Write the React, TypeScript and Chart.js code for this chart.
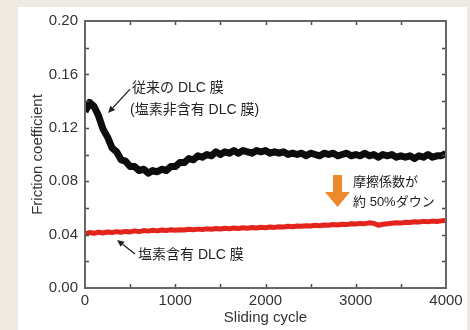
import { useEffect, useRef } from 'react';
import { Chart, registerables } from 'chart.js';

Chart.register(...registerables);

// ---- data ----
const cycles = [
  0, 50, 100, 150, 200, 250, 300, 350, 400, 450,
  500, 550, 600, 650, 700, 750, 800, 850, 900, 950,
  1000, 1050, 1100, 1150, 1200, 1250, 1300, 1350, 1400, 1450,
  1500, 1550, 1600, 1650, 1700, 1750, 1800, 1850, 1900, 1950,
  2000, 2050, 2100, 2150, 2200, 2250, 2300, 2350, 2400, 2450,
  2500, 2550, 2600, 2650, 2700, 2750, 2800, 2850, 2900, 2950,
  3000, 3050, 3100, 3150, 3200, 3250, 3300, 3350, 3400, 3450,
  3500, 3550, 3600, 3650, 3700, 3750, 3800, 3850, 3900, 3950,
  4000,
];

const conventionalDLC = [
  0.132, 0.139, 0.136, 0.129, 0.119, 0.113, 0.105, 0.102, 0.096, 0.095,
  0.091, 0.091, 0.088, 0.089, 0.086, 0.088, 0.087, 0.089, 0.088, 0.091,
  0.091, 0.094, 0.094, 0.097, 0.096, 0.099, 0.098, 0.100, 0.099, 0.102,
  0.100, 0.102, 0.101, 0.103, 0.101, 0.103, 0.102, 0.101, 0.103, 0.102,
  0.103, 0.101, 0.102, 0.101, 0.102, 0.100, 0.101, 0.100, 0.101, 0.099,
  0.101, 0.100, 0.099, 0.101, 0.100, 0.101, 0.099, 0.100, 0.101, 0.099,
  0.100, 0.099, 0.101, 0.099, 0.100, 0.098, 0.100, 0.099, 0.100, 0.098,
  0.099, 0.098, 0.099, 0.097, 0.099, 0.098, 0.100, 0.098, 0.099, 0.099,
  0.101,
];

const chlorineDLC = [
  0.0405, 0.0415, 0.0410, 0.0418, 0.0412, 0.0420, 0.0415, 0.0422, 0.0418, 0.0424,
  0.0420, 0.0428, 0.0422, 0.0430, 0.0426, 0.0432, 0.0428, 0.0434, 0.0430, 0.0436,
  0.0432, 0.0437, 0.0434, 0.0440, 0.0436, 0.0441, 0.0438, 0.0443, 0.0440, 0.0445,
  0.0442, 0.0447, 0.0444, 0.0449, 0.0446, 0.0451, 0.0448, 0.0453, 0.0450, 0.0455,
  0.0452, 0.0457, 0.0454, 0.0459, 0.0457, 0.0462, 0.0459, 0.0465, 0.0462, 0.0467,
  0.0465, 0.0470, 0.0467, 0.0472, 0.0470, 0.0475, 0.0472, 0.0478, 0.0475, 0.0481,
  0.0479, 0.0484, 0.0482, 0.0488, 0.0484, 0.0470, 0.0477, 0.0481, 0.0485, 0.0488,
  0.0486, 0.0492, 0.0490, 0.0496, 0.0494, 0.0499, 0.0496, 0.0501, 0.0498, 0.0503,
  0.0505,
];

const xTickMarks = [500, 1000, 1500, 2000, 2500, 3000, 3500];
const yTickMarks = [0.02, 0.04, 0.06, 0.08, 0.1, 0.12, 0.14, 0.16, 0.18];

const xTitle = 'Sliding cycle';
const yTitle = 'Friction coefficient';

const FONT = '"Liberation Sans", "Noto Sans CJK JP", sans-serif';

const framePlugin = {
  id: 'frameAndNotes',
  afterDatasetsDraw(chart: any) {
    const { ctx, chartArea, scales } = chart;
    const { left, right, top, bottom } = chartArea;
    const x = scales.x;
    const y = scales.y;
    ctx.save();

    // inward tick marks on all four sides
    ctx.strokeStyle = '#4a4a4a';
    ctx.lineWidth = 1.5;
    const tl = 4;
    ctx.beginPath();
    for (const v of xTickMarks) {
      const px = Math.round(x.getPixelForValue(v)) + 0.5;
      ctx.moveTo(px, bottom); ctx.lineTo(px, bottom - tl);
      ctx.moveTo(px, top); ctx.lineTo(px, top + tl);
    }
    for (const v of yTickMarks) {
      const py = Math.round(y.getPixelForValue(v)) + 0.5;
      ctx.moveTo(left, py); ctx.lineTo(left + tl, py);
      ctx.moveTo(right, py); ctx.lineTo(right - tl, py);
    }
    ctx.stroke();

    // frame
    ctx.strokeStyle = '#666666';
    ctx.lineWidth = 2;
    ctx.strokeRect(left, top, right - left, bottom - top);

    const P = (vx: number, vy: number) => [x.getPixelForValue(vx), y.getPixelForValue(vy)];

    // texts
    ctx.fillStyle = '#222';
    ctx.textBaseline = 'middle';
    ctx.textAlign = 'left';
    ctx.font = '14px ' + FONT;
    let p = P(521, 0.1498); ctx.fillText('従来の DLC 膜', p[0], p[1]);
    p = P(499, 0.1333); ctx.fillText('(塩素非含有 DLC 膜)', p[0], p[1]);
    p = P(588, 0.0247); ctx.fillText('塩素含有 DLC 膜', p[0], p[1]);
    ctx.font = '13px ' + FONT;
    p = P(2970, 0.0794); ctx.fillText('摩擦係数が', p[0], p[1]);
    p = P(2970, 0.0644); ctx.fillText('約 50%ダウン', p[0], p[1]);

    // thin black arrows
    const arrow = (x1: number, y1: number, x2: number, y2: number) => {
      const a = P(x1, y1), b = P(x2, y2);
      const ang = Math.atan2(b[1] - a[1], b[0] - a[0]);
      const hl = 7, hw = 3.2;
      const bx = b[0] - hl * Math.cos(ang), by = b[1] - hl * Math.sin(ang);
      ctx.strokeStyle = '#222';
      ctx.lineWidth = 1.3;
      ctx.beginPath(); ctx.moveTo(a[0], a[1]); ctx.lineTo(bx, by); ctx.stroke();
      ctx.fillStyle = '#222';
      ctx.beginPath();
      ctx.moveTo(b[0], b[1]);
      ctx.lineTo(bx + hw * Math.sin(ang), by - hw * Math.cos(ang));
      ctx.lineTo(bx - hw * Math.sin(ang), by + hw * Math.cos(ang));
      ctx.closePath(); ctx.fill();
    };
    arrow(499, 0.1490, 255, 0.1311);
    arrow(554, 0.0255, 355, 0.0360);

    // orange down arrow
    const t = P(2798, 0.0846), hb = P(2798, 0.0719), tip = P(2798, 0.0607);
    ctx.fillStyle = '#ec8a2c';
    ctx.beginPath();
    ctx.moveTo(t[0] - 4.5, t[1]);
    ctx.lineTo(t[0] + 4.5, t[1]);
    ctx.lineTo(t[0] + 4.5, hb[1]);
    ctx.lineTo(t[0] + 12.5, hb[1]);
    ctx.lineTo(tip[0], tip[1]);
    ctx.lineTo(t[0] - 12.5, hb[1]);
    ctx.lineTo(t[0] - 4.5, hb[1]);
    ctx.closePath();
    ctx.fill();

    ctx.restore();
  },
};

export default function App() {
  const ref = useRef<HTMLCanvasElement>(null);
  useEffect(() => {
    if (!ref.current) return;
    const chart = new Chart(ref.current, {
      type: 'line',
      data: {
        datasets: [
          {
            label: '従来の DLC 膜',
            data: cycles.map((c, i) => ({ x: c, y: conventionalDLC[i] })),
            borderColor: '#0d0d0d',
            borderWidth: 7,
            pointRadius: 0,
            tension: 0,
            borderJoinStyle: 'round',
          },
          {
            label: '塩素含有 DLC 膜',
            data: cycles.map((c, i) => ({ x: c, y: chlorineDLC[i] })),
            borderColor: '#e4231d',
            borderWidth: 5,
            pointRadius: 0,
            tension: 0,
            borderJoinStyle: 'round',
          },
        ],
      },
      options: {
        animation: false,
        responsive: false,
        maintainAspectRatio: false,
        layout: { padding: { left: 0, top: 21, right: 24, bottom: 0 } },
        plugins: { legend: { display: false }, tooltip: { enabled: false } },
        scales: {
          x: {
            type: 'linear',
            min: 0,
            max: 4000,
            grid: { display: false, drawTicks: false },
            border: { display: false },
            ticks: {
              stepSize: 1000,
              padding: 4,
              color: '#333',
              font: { family: FONT, size: 15 },
              callback: (v: any) => String(v),
            },
            title: {
              display: true,
              text: xTitle,
              color: '#333',
              font: { family: FONT, size: 15 },
              padding: { top: 0, bottom: 3 },
            },
            afterFit: (s: any) => { s.height = 42; },
          },
          y: {
            type: 'linear',
            min: 0,
            max: 0.2,
            grid: { display: false, drawTicks: false },
            border: { display: false },
            ticks: {
              stepSize: 0.04,
              padding: 7,
              color: '#333',
              font: { family: FONT, size: 15 },
              callback: (v: any) => Number(v).toFixed(2),
            },
            title: {
              display: true,
              text: yTitle,
              color: '#333',
              font: { family: FONT, size: 15 },
              padding: { top: 29, bottom: 0 },
            },
            afterFit: (s: any) => { s.width = 85; },
          },
        },
      },
      plugins: [framePlugin],
    });
    return () => chart.destroy();
  }, []);

  return (
    <div style={{ position: 'absolute', left: 0, top: 0, width: 470, height: 330, background: '#eeeae1', overflow: 'hidden' }}>
      <div style={{ position: 'absolute', left: 18, top: 7, width: 449, height: 323, background: '#ffffff' }} />
      <canvas ref={ref} width={470} height={330} style={{ position: 'absolute', left: 0, top: 0, width: 470, height: 330 }} />
    </div>
  );
}
